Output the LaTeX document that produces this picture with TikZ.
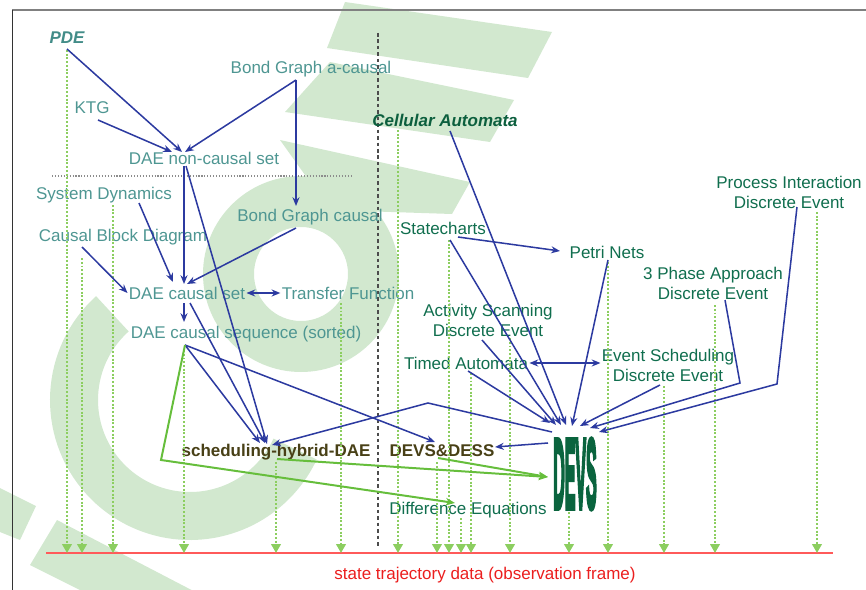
\documentclass[tikz,border=0pt]{standalone}
\usepackage{fontspec}
\usepackage{graphicx}
\setmainfont{Liberation Sans}
\newfontfamily\devsface{Liberation Sans Bold}[FakeBold=6]
\usetikzlibrary{arrows.meta,calc}

\definecolor{tealtxt}{RGB}{78,150,146}
\definecolor{pdecol}{RGB}{66,140,136}
\definecolor{greentxt}{RGB}{16,110,78}
\definecolor{cagreen}{RGB}{12,95,62}
\definecolor{olivetxt}{RGB}{72,64,22}
\definecolor{devsgreen}{RGB}{10,100,62}
\definecolor{flowblue}{RGB}{44,58,160}
\definecolor{solidgreen}{RGB}{102,190,60}
\definecolor{dotgreen}{RGB}{140,206,96}
\definecolor{obsred}{RGB}{255,90,90}
\definecolor{redtxt}{RGB}{235,30,30}
\definecolor{wm}{RGB}{210,232,207}

\tikzset{
  lbl/.style={inner sep=1pt, font=\fontsize{14.5}{17}\selectfont, align=center},
  leftlbl/.style={lbl, text=tealtxt},
  rightlbl/.style={lbl, text=greentxt},
  hybrid/.style={lbl, text=olivetxt, font=\fontsize{14.5}{17}\selectfont\bfseries},
  flow/.style={draw=flowblue, line width=1.3pt, -{Stealth[length=7.5pt,width=6pt]}},
  flowboth/.style={flow, {Stealth[length=7.5pt,width=6pt]}-{Stealth[length=7.5pt,width=6pt]}},
  gflow/.style={draw=solidgreen, line width=1.7pt, -{Stealth[length=8pt,width=6.5pt]}},
  obs/.style={draw=dotgreen, line width=1.8pt, dash pattern=on 1.6pt off 1.6pt,
              -{Triangle[length=7.5pt,width=8pt]}},
}
% dotted drop from a node down to the observation line
\newcommand\obsdrop[3]{\draw[obs] ($(#1)+(#2,#3)$) coordinate (t) -- (t |- baseL);}

\begin{document}
\begin{tikzpicture}[x=0.03cm, y=-0.03cm]
\useasboundingbox (0,0) rectangle (866,590);

% ---- light watermark in the background
\fill[wm, even odd rule] (301,274) circle[radius=98] (301,274) circle[radius=47];
\draw[wm, line width=1.44cm] (190,400) ++(228:116) arc[start angle=228, end angle=25, radius=116];
\fill[wm] (345,2) -- (552,32) -- (528,78) -- (327,48) -- cycle;
\fill[wm] (330,62) -- (514,100) -- (490,142) -- (285,112) -- cycle;
\fill[wm] (280,140) -- (470,182) -- (452,214) -- (330,210) -- cycle;
\fill[wm] (57,520) -- (230,610) -- (180,640) -- (30,565) -- cycle;
\fill[wm] (0,488) -- (36,506) -- (20,540) -- (0,532) -- cycle;

% ---- frame and separators
\draw[gray, line width=1.4pt] (12,10) -- (866,10);
\draw[black!80, line width=0.8pt] (12,10) -- (12,590);
\draw[black!70, line width=1pt, dash pattern=on 3pt off 2.5pt] (378,33) -- (378,548);
\draw[black!45, line width=0.9pt, dash pattern=on 1pt off 1.5pt] (52,176) -- (352,176);

% ---- formalisms
\node[lbl, text=pdecol, font=\fontsize{14.5}{17}\selectfont\bfseries\itshape] (pde) at (67,38) {PDE};
\node[leftlbl] (bga) at (311,69) {Bond Graph a-causal};
\node[leftlbl] (ktg) at (92,108) {KTG};
\node[lbl, text=cagreen, font=\fontsize{14.5}{17}\selectfont\bfseries\itshape] (ca) at (445,120) {Cellular Automata};
\node[leftlbl] (dnc) at (204,158) {DAE non-causal set};
\node[leftlbl] (sd) at (104,195) {System Dynamics};
\node[leftlbl] (bgc) at (310,217) {Bond Graph causal};
\node[leftlbl] (cbd) at (123,237) {Causal Block Diagram};
\node[rightlbl] (sc) at (443,228) {Statecharts};
\node[rightlbl] (pi) at (789,192) {Process Interaction\\Discrete Event};
\node[rightlbl] (pn) at (607,252) {Petri Nets};
\node[rightlbl] (tpa) at (713,283) {3 Phase Approach\\Discrete Event};
\node[leftlbl] (dcs) at (187,293) {DAE causal set};
\node[leftlbl] (tf) at (348,293) {Transfer Function};
\node[rightlbl] (as) at (488,320) {Activity Scanning\\Discrete Event};
\node[leftlbl] (dseq) at (246,334) {DAE causal sequence (sorted)};
\node[rightlbl] (ta) at (466,363) {Timed Automata};
\node[rightlbl] (es) at (668,365) {Event Scheduling\\Discrete Event};
\node[hybrid] (shd) at (276,452) {scheduling-hybrid-DAE};
\node[hybrid] (dd) at (442,451) {DEVS\&DESS};
\node[inner sep=0pt, text=devsgreen] (devs) at (575,474)
  {\scalebox{0.34}[2.1]{\devsface\fontsize{40}{40}\selectfont DEVS}};
\node[rightlbl] (de) at (468,510) {Difference Equations};
\node[lbl, text=redtxt] (frame) at (485,575) {state trajectory data (observation frame)};

% ---- observation line
\coordinate (baseL) at (46,553);
\coordinate (baseR) at (833,553);
\draw[obsred, line width=1.2pt] (baseL) -- (baseR);

% ---- dotted drops to the observation frame
\obsdrop{pde}{0}{12}
\obsdrop{cbd}{-41}{21}
\obsdrop{sd}{9}{10}
\obsdrop{dseq}{-62}{16}
\obsdrop{shd}{0}{10}
\obsdrop{tf}{-7}{10}
\obsdrop{ca}{-47}{10}
\obsdrop{dd}{-5}{11}
\obsdrop{sc}{6}{12}
\obsdrop{de}{-7}{8}
\obsdrop{ta}{5}{10}
\obsdrop{as}{22}{18}
\obsdrop{devs}{-6}{38}
\obsdrop{pn}{1}{10}
\obsdrop{es}{-4}{21}
\obsdrop{tpa}{2}{22}
\obsdrop{pi}{28}{20}

% ---- continuous side
\draw[flow] ($(pde)+(0,11)$) -- ($(dnc)+(-22,-6)$);
\draw[flow] ($(ktg)+(6,12)$) -- ($(dnc)+(-32,-6)$);
\draw[flow] ($(bga)+(-15,11)$) -- ($(dnc)+(-19,-6)$);
\draw[flow] ($(bga)+(-15,11)$) -- ($(bgc)+(-14,-11)$);
\draw[flow] ($(dnc)+(-20,8)$) -- ($(dcs)+(-3,-9)$);
\draw[flow] ($(dnc)+(-18,8)$) -- ($(shd)+(-9,-8)$);
\draw[flow] ($(sd)+(35,8)$) -- ($(dcs)+(-14,-11)$);
\draw[flow] ($(cbd)+(-41,10)$) -- (dcs.west);
\draw[flow] ($(bgc)+(-14,11)$) -- ($(dcs)+(0,-9)$);
\draw[flowboth] (dcs.east) -- (tf.west);
\draw[flow, line width=2pt] ($(dcs)+(-3,10)$) -- ($(dseq)+(-62,-12)$);
\draw[flow] ($(dcs)+(3,10)$) -- ($(shd)+(-11,-9)$);
\draw[flow] ($(dseq)+(-61,11)$) -- ($(shd)+(-16,-9)$);
\draw[flow] ($(dseq)+(-61,11)$) -- ($(dd)+(-7,-9)$);

% ---- discrete side
\draw[flow] ($(devs)+(-23,-42)$) -- (428,403) -- ($(shd)+(-4,-7)$);
\draw[flow] ($(devs)+(-27,-31)$) -- ($(dd)+(53,-4)$);
\draw[flow] ($(ca)+(5,11)$) -- ($(devs)+(-9,-49)$);
\draw[flow] ($(sc)+(7,12)$) -- ($(devs)+(-14,-49)$);
\draw[flow] ($(sc)+(15,9)$) -- ($(pn)+(-47,-1)$);
\draw[flow] ($(pn)+(1,8)$) -- ($(devs)+(-3,-48)$);
\draw[flow] ($(as)+(-6,20)$) -- ($(devs)+(-19,-49)$);
\draw[flow] ($(ta)+(2,8)$) -- ($(devs)+(-25,-51)$);
\draw[flowboth] (ta.east) -- (ta.east -| es.west);
\draw[flow] ($(es)+(-8,20)$) -- ($(devs)+(5,-48)$);
\draw[flow] ($(tpa)+(12,17)$) -- ($(tpa)+(27,100)$) -- ($(devs)+(15,-46)$);
\draw[flow] ($(pi)+(8,15)$) -- ($(pi)+(-12,192)$) -- ($(devs)+(24,-42)$);

% ---- hybrid couplings
\draw[gflow] ($(dseq)+(-61,11)$) -- ($(dseq)+(-85,126)$) -- ($(de)+(-13,-7)$);
\draw[gflow] ($(shd)+(1,7)$) -- ($(devs)+(-27,3)$);
\draw[gflow] ($(dd)+(-4,7)$) -- ($(devs)+(-27,3)$);
\end{tikzpicture}
\end{document}
